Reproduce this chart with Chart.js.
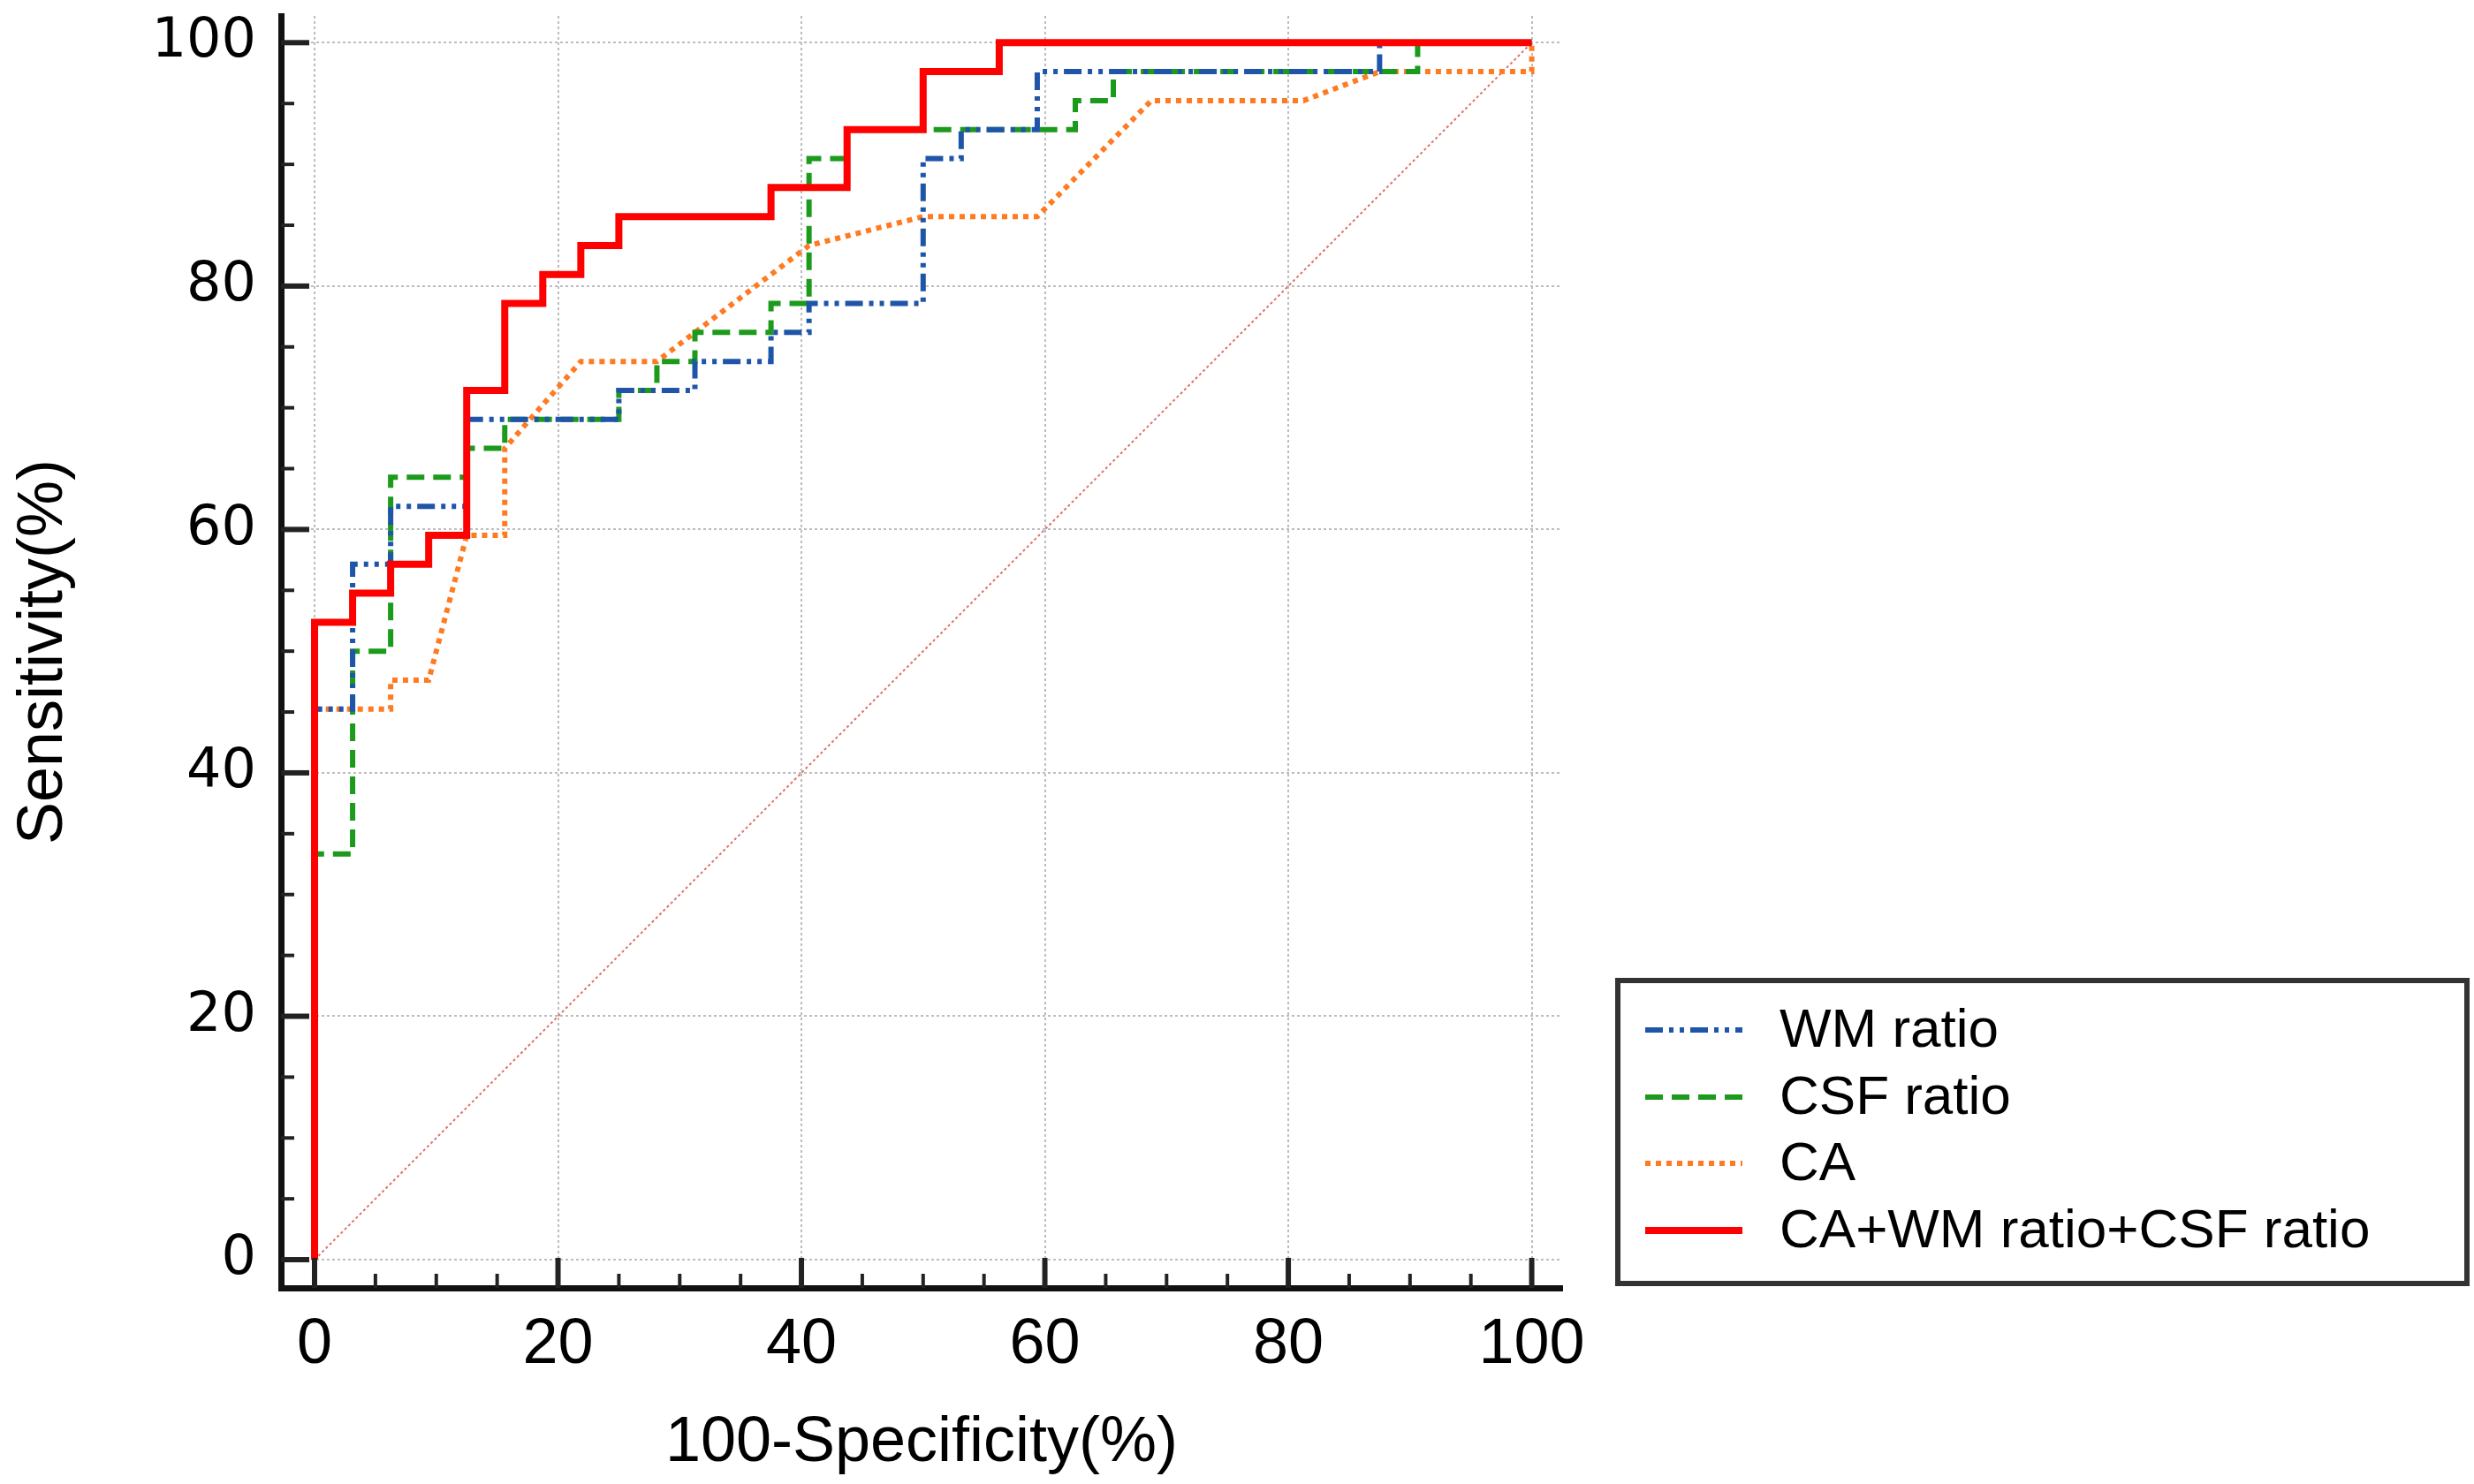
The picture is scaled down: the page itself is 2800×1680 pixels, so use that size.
<!DOCTYPE html>
<html>
<head>
<meta charset="utf-8">
<script src="https://cdn.jsdelivr.net/npm/chart.js@4.4.1/dist/chart.umd.min.js"></script>
<style>
  html, body { margin: 0; padding: 0; background: #fff; }
  #wrap { width: 2800px; height: 1680px; position: relative; }
</style>
</head>
<body>
<div id="wrap"><canvas id="rocChart"></canvas></div>
<script>
// ROC curves, x = 100-Specificity(%), y = Sensitivity(%)
var seriesNames = ['WM ratio', 'CSF ratio', 'CA', 'CA+WM ratio+CSF ratio'];

var wmX = [0, 0, 3.125, 3.125, 6.25, 6.25, 12.5, 12.5, 25, 25, 31.25, 31.25, 37.5, 37.5, 40.625, 40.625, 50, 50, 53.125, 53.125, 59.375, 59.375, 87.5, 87.5, 100];
var wmY = [0, 45.24, 45.24, 57.14, 57.14, 61.9, 61.9, 69.05, 69.05, 71.43, 71.43, 73.81, 73.81, 76.19, 76.19, 78.57, 78.57, 90.48, 90.48, 92.86, 92.86, 97.62, 97.62, 100, 100];

var csfX = [0, 0, 3.125, 3.125, 6.25, 6.25, 12.5, 12.5, 15.625, 15.625, 25, 25, 28.125, 28.125, 31.25, 31.25, 37.5, 37.5, 40.625, 40.625, 43.75, 43.75, 62.5, 62.5, 65.625, 65.625, 90.625, 90.625, 100];
var csfY = [0, 33.33, 33.33, 50, 50, 64.29, 64.29, 66.67, 66.67, 69.05, 69.05, 71.43, 71.43, 73.81, 73.81, 76.19, 76.19, 78.57, 78.57, 90.48, 90.48, 92.86, 92.86, 95.24, 95.24, 97.62, 97.62, 100, 100];

var caX = [0, 0, 6.25, 6.25, 9.375, 12.5, 15.625, 15.625, 21.875, 28.125, 40.625, 50, 59.375, 68.75, 81.25, 87.5, 100, 100];
var caY = [0, 45.24, 45.24, 47.62, 47.62, 59.52, 59.52, 66.67, 73.81, 73.81, 83.33, 85.71, 85.71, 95.24, 95.24, 97.62, 97.62, 100];

var combX = [0, 0, 3.125, 3.125, 6.25, 6.25, 9.375, 9.375, 12.5, 12.5, 15.625, 15.625, 18.75, 18.75, 21.875, 21.875, 25, 25, 37.5, 37.5, 43.75, 43.75, 50, 50, 56.25, 56.25, 100];
var combY = [0, 52.38, 52.38, 54.76, 54.76, 57.14, 57.14, 59.52, 59.52, 71.43, 71.43, 78.57, 78.57, 80.95, 80.95, 83.33, 83.33, 85.71, 85.71, 88.1, 88.1, 92.86, 92.86, 97.62, 97.62, 100, 100];

var refX = [0, 100];
var refY = [0, 100];

var xTicks = [0, 20, 40, 60, 80, 100];
var yTicks = [0, 20, 40, 60, 80, 100];

function toPoints(xs, ys) {
  return xs.map(function (x, i) { return { x: x, y: ys[i] }; });
}

// minor ticks every 5 between the majors
function minorTicks(major) {
  var out = [];
  for (var i = 0; i < major.length - 1; i++) {
    for (var k = 1; k < 4; k++) out.push(major[i] + (major[i + 1] - major[i]) * k / 4);
  }
  return out;
}

// ticks drawn inward from the axis lines
var inwardTicks = {
  id: 'inwardTicks',
  afterDatasetsDraw: function (chart) {
    var ctx = chart.ctx, area = chart.chartArea;
    var xs = chart.scales.x, ys = chart.scales.y;
    ctx.save();
    ctx.strokeStyle = '#222';
    ctx.lineCap = 'butt';
    function tickX(v, len, w) {
      var p = xs.getPixelForValue(v);
      ctx.lineWidth = w;
      ctx.beginPath(); ctx.moveTo(p, area.bottom); ctx.lineTo(p, area.bottom - len); ctx.stroke();
    }
    function tickY(v, len, w) {
      var p = ys.getPixelForValue(v);
      ctx.lineWidth = w;
      ctx.beginPath(); ctx.moveTo(area.left, p); ctx.lineTo(area.left + len, p); ctx.stroke();
    }
    xTicks.forEach(function (v) { tickX(v, 34, 6); });
    minorTicks(xTicks).forEach(function (v) { tickX(v, 16, 4); });
    yTicks.forEach(function (v) { tickY(v, 32, 6); });
    minorTicks(yTicks).forEach(function (v) { tickY(v, 15, 4); });
    ctx.restore();
  }
};

// boxed legend at the lower right
var boxLegend = {
  id: 'boxLegend',
  afterDraw: function (chart) {
    var ctx = chart.ctx;
    var left = 1831, top = 1110, right = 2792, bottom = 1453;
    ctx.save();
    ctx.strokeStyle = '#333';
    ctx.lineWidth = 6;
    ctx.strokeRect(left, top, right - left, bottom - top);
    var rowY = [1166, 1242, 1317, 1393];
    ctx.font = '62px "Liberation Sans", Arial, sans-serif';
    ctx.textBaseline = 'middle';
    ctx.fillStyle = '#000';
    seriesNames.forEach(function (name, i) {
      var ds = chart.data.datasets.filter(function (d) { return d.label === name; })[0];
      ctx.strokeStyle = ds.borderColor;
      ctx.lineWidth = ds.borderWidth;
      ctx.setLineDash(ds.borderDash || []);
      ctx.beginPath(); ctx.moveTo(1862, rowY[i]); ctx.lineTo(1972, rowY[i]); ctx.stroke();
      ctx.setLineDash([]);
      ctx.fillText(name, 2014, rowY[i] + 2);
    });
    ctx.restore();
  }
};

function lineSet(label, xs, ys, color, width, dash, order) {
  return {
    label: label,
    data: toPoints(xs, ys),
    showLine: true,
    borderColor: color,
    backgroundColor: color,
    borderWidth: width,
    borderDash: dash,
    borderCapStyle: 'butt',
    borderJoinStyle: 'miter',
    pointRadius: 0,
    pointHoverRadius: 0,
    fill: false,
    tension: 0,
    order: order
  };
}

var ctx = document.getElementById('rocChart');

var myChart = new Chart(ctx, {
  type: 'scatter',
  data: {
    datasets: [
      lineSet(seriesNames[0], wmX, wmY, '#1f55a8', 6, [20, 7, 5, 7, 5, 7], 1),
      lineSet(seriesNames[1], csfX, csfY, '#1c9a1c', 6, [20, 10], 2),
      lineSet(seriesNames[2], caX, caY, '#ff7b22', 6, [6, 6], 3),
      lineSet(seriesNames[3], combX, combY, '#ff0000', 8, [], 0),
      lineSet('', refX, refY, '#e07070', 2, [3, 3], 4)
    ]
  },
  options: {
    responsive: true,
    maintainAspectRatio: false,
    devicePixelRatio: 1,
    animation: false,
    layout: { autoPadding: false, padding: { left: 0, right: 1032, top: 18, bottom: 0 } },
    plugins: {
      legend: { display: false },
      tooltip: { enabled: false }
    },
    scales: {
      x: {
        type: 'linear',
        min: -2.76,
        max: 102.5,
        afterBuildTicks: function (s) { s.ticks = xTicks.map(function (v) { return { value: v }; }); },
        afterFit: function (s) { s.height = 222; s.paddingLeft = 0; s.paddingRight = 0; },
        ticks: {
          color: '#000',
          padding: 22,
          maxRotation: 0,
          autoSkip: false,
          font: { family: '"Liberation Sans", Arial, sans-serif', size: 72 }
        },
        grid: { color: '#bdbdbd', lineWidth: 2, drawTicks: false },
        border: { display: true, color: '#111', width: 7, dash: [3, 3] },
        title: {
          display: true,
          text: '100-Specificity(%)',
          color: '#000',
          padding: { top: 0, bottom: 3 },
          font: { family: '"Liberation Sans", Arial, sans-serif', size: 72 }
        }
      },
      y: {
        type: 'linear',
        min: -2.32,
        max: 102.2,
        afterBuildTicks: function (s) { s.ticks = yTicks.map(function (v) { return { value: v }; }); },
        afterFit: function (s) { s.width = 318; s.paddingTop = 0; s.paddingBottom = 0; },
        ticks: {
          color: '#000',
          padding: 28,
          autoSkip: false,
          font: { family: '"DejaVu Sans", Verdana, sans-serif', size: 62 }
        },
        grid: { color: '#bdbdbd', lineWidth: 2, drawTicks: false },
        border: { display: true, color: '#111', width: 7, dash: [3, 3] },
        title: {
          display: true,
          text: 'Sensitivity(%)',
          color: '#000',
          padding: { top: 7, bottom: 0 },
          font: { family: '"Liberation Sans", Arial, sans-serif', size: 72 }
        }
      }
    }
  },
  plugins: [inwardTicks, boxLegend]
});
</script>
</body>
</html>
